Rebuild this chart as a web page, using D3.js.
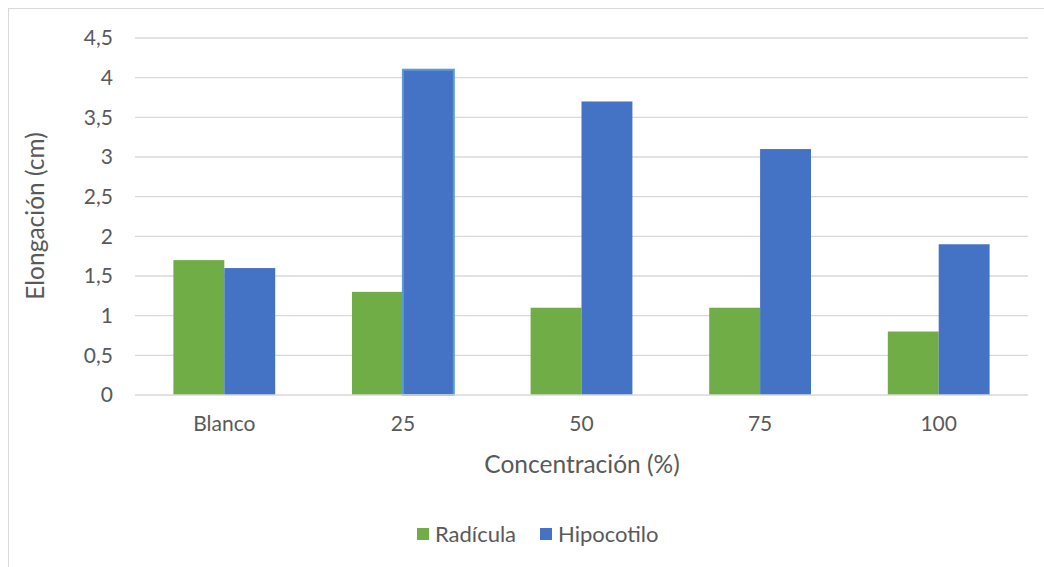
<!DOCTYPE html>
<html>
<head>
<meta charset="utf-8">
<script src="https://cdn.jsdelivr.net/npm/d3@7"></script>
<style>
body{margin:0;background:#fff;}
svg{display:block;}
text{font-family:Lato,"Open Sans",sans-serif;fill:#595959;}
</style>
</head>
<body>
<svg id="c" width="1044" height="567"></svg>
<script>
const categories = ["Blanco","25","50","75","100"];
const radicula = [1.7,1.3,1.1,1.1,0.8];
const hipocotilo = [1.6,4.1,3.7,3.1,1.9];
const seriesNames = ["Radícula","Hipocotilo"];
const seriesColors = ["#70AD47","#4472C4"];
const yTicks = [0,0.5,1,1.5,2,2.5,3,3.5,4,4.5];
const yTickLabels = ["0","0,5","1","1,5","2","2,5","3","3,5","4","4,5"];

(function(){
const svg = d3.select("#c");
svg.append("rect").attr("x",8.5).attr("y",8.5).attr("width",1100).attr("height",600)
  .attr("fill","none").attr("stroke","#d9d9d9").attr("stroke-width",1);

const pL=135, pR=1028, pT=38, pB=395;
const x = d3.scaleBand().domain(categories).range([pL,pR]).paddingInner(0.43).paddingOuter(0.215);
const y = d3.scaleLinear().domain([0,4.5]).range([pB,pT]);
const xs = d3.scaleBand().domain(seriesNames).range([0,x.bandwidth()]);

svg.append("g").selectAll("line").data(yTicks.filter(d=>d>0)).join("line")
  .attr("x1",pL).attr("x2",pR).attr("y1",d=>y(d)).attr("y2",d=>y(d))
  .attr("stroke","#d9d9d9").attr("stroke-width",1.3);

const data = [radicula,hipocotilo];
data.forEach((vals,si)=>{
  svg.append("g").selectAll("rect").data(vals).join("rect")
    .attr("x",(d,i)=>x(categories[i])+xs(seriesNames[si]))
    .attr("y",d=>y(d))
    .attr("width",xs.bandwidth())
    .attr("height",d=>pB-y(d))
    .attr("fill",seriesColors[si])
    .attr("stroke",(d,i)=> (si===1 && i===1) ? "#5B9BD5" : "none")
    .attr("stroke-width",2);
});

svg.append("line").attr("x1",pL).attr("x2",pR).attr("y1",pB).attr("y2",pB)
  .attr("stroke","#d9d9d9").attr("stroke-width",1.3);

const yAxis = d3.axisLeft(y).tickValues(yTicks).tickFormat((d,i)=>yTickLabels[i]).tickSize(0).tickPadding(0);
const ya = svg.append("g").attr("transform",`translate(${pL-22},0)`).call(yAxis);
ya.select(".domain").remove();
ya.selectAll("text").attr("font-size",21).attr("fill","#595959").style("font-family","Lato,sans-serif");

const xAxis = d3.axisBottom(x).tickSize(0).tickPadding(0);
const xa = svg.append("g").attr("transform",`translate(0,${pB+21})`).call(xAxis);
xa.select(".domain").remove();
xa.selectAll("text").attr("font-size",21).attr("fill","#595959").style("font-family","Lato,sans-serif");

svg.append("text").attr("x",582).attr("y",473).attr("text-anchor","middle")
  .attr("font-size",24.5).text("Concentración (%)");
svg.append("text").attr("transform","translate(44,216) rotate(-90)").attr("text-anchor","middle")
  .attr("font-size",24.5).text("Elongación (cm)");

const legX=[417,540];
seriesNames.forEach((n,i)=>{
  svg.append("rect").attr("x",legX[i]).attr("y",528).attr("width",12).attr("height",12).attr("fill",seriesColors[i]);
  svg.append("text").attr("x",legX[i]+18).attr("y",542).attr("font-size",22).text(n);
});
})();
</script>
</body>
</html>
